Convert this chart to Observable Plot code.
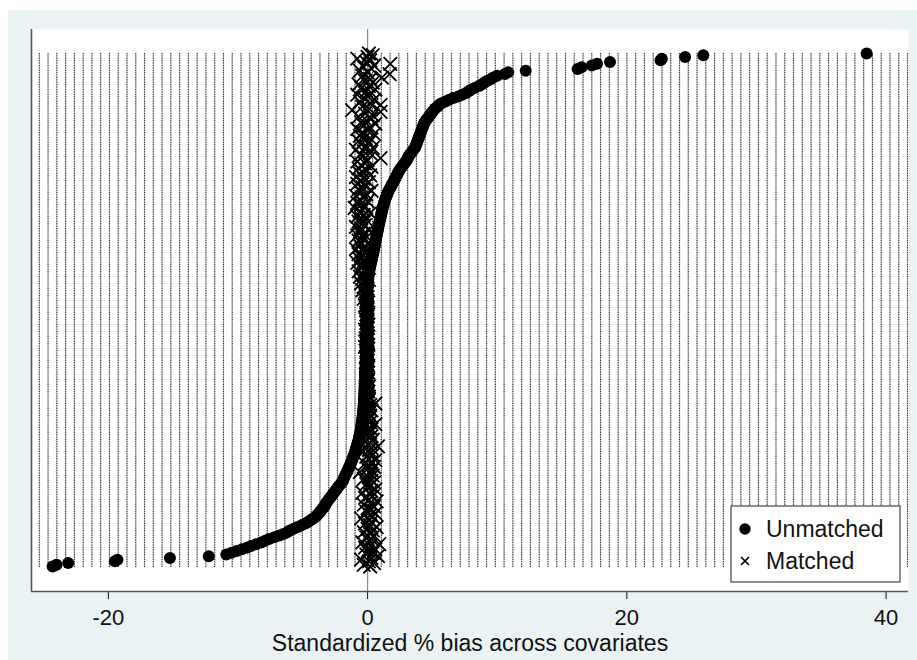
<!DOCTYPE html>
<html>
<head>
<meta charset="utf-8">
<script src="https://cdn.jsdelivr.net/npm/d3@7"></script>
<script src="https://cdn.jsdelivr.net/npm/@observablehq/plot@0.6"></script>
<style>
  body { margin: 0; background: #fff; }
  #wrap { position: relative; width: 917px; height: 660px; overflow: hidden; }
  #bg { position: absolute; left: 8px; top: 10px; width: 909px; height: 650px; background: #eaf2f3; }
  #chart { position: absolute; left: 0; top: 0; }
  #legend { position: absolute; left: 730px; top: 505px; }
</style>
</head>
<body>
<div id="wrap">
  <div id="bg"></div>
  <div id="chart"></div>
  <svg id="legend" width="171" height="78" font-family="'Liberation Sans', Arial, sans-serif">
    <rect x="1" y="1" width="169" height="76" fill="#fff" stroke="#444" stroke-width="1.2"></rect>
    <circle cx="15" cy="24" r="5.7" fill="#000"></circle>
    <path d="M11,52 L19,60 M19,52 L11,60" stroke="#000" stroke-width="1.7" fill="none"></path>
    <text x="36" y="32" font-size="23" fill="#111">Unmatched</text>
    <text x="36" y="64" font-size="23" fill="#111">Matched</text>
  </svg>
</div>
<script>
// Standardized % bias per covariate, sorted by unmatched bias (bottom -> top)
const unmatched = [
  -24.3, -24.0, -23.1, -19.5, -19.3, -15.25, -12.25, -10.9, -10.5, -10.1,
  -9.7, -9.3, -9.0, -8.6, -8.2, -7.9, -7.6, -7.2, -6.8, -6.5,
  -6.2, -6.0, -5.7, -5.4, -5.1, -4.8, -4.6, -4.4, -4.2, -4.0,
  -3.9, -3.75, -3.65, -3.55, -3.45, -3.35, -3.25, -3.2, -3.1, -3.0,
  -2.9, -2.8, -2.7, -2.6, -2.5, -2.4, -2.3, -2.2, -2.1, -2.0,
  -1.9, -1.85, -1.8, -1.73, -1.66, -1.6, -1.54, -1.48, -1.42, -1.36, -1.3, -1.25,
  -1.2, -1.15, -1.1, -1.05, -1.0, -0.96, -0.92, -0.88, -0.84, -0.8, -0.76, -0.72,
  -0.69, -0.66, -0.63, -0.6, -0.57, -0.54, -0.52, -0.5, -0.48, -0.46, -0.44, -0.42,
  -0.4, -0.39, -0.37, -0.36, -0.34, -0.33, -0.32, -0.31, -0.3, -0.29, -0.28, -0.27,
  -0.26, -0.26, -0.25, -0.25, -0.24, -0.24, -0.23, -0.23, -0.22, -0.22, -0.21, -0.21,
  -0.2, -0.2, -0.19, -0.19, -0.18, -0.17, -0.16, -0.15, -0.14, -0.13, -0.12,
  -0.12, -0.12, -0.12, -0.11, -0.11, -0.11, -0.11, -0.1, -0.1, -0.1,
  -0.1, -0.1, -0.1, -0.09, -0.09, -0.09, -0.09, -0.09, -0.08, -0.08,
  -0.08, -0.08, -0.08, -0.07, -0.07, -0.07, -0.07, -0.07, -0.06, -0.06,
  -0.06, -0.06, -0.06, -0.05, -0.05, -0.05, -0.05, -0.04, -0.04, -0.04, -0.03,
  -0.02, 0.0, 0.01, 0.02, 0.03, 0.04, 0.05, 0.06, 0.08, 0.1, 0.12, 0.14,
  0.17, 0.2, 0.23, 0.26, 0.29, 0.32, 0.35, 0.38, 0.41, 0.44, 0.47,
  0.5, 0.52, 0.55, 0.57, 0.6, 0.62, 0.65, 0.67, 0.7, 0.72, 0.75, 0.78,
  0.81, 0.83, 0.86, 0.89, 0.92, 0.95, 0.98, 1.01, 1.04, 1.07, 1.1,
  1.13, 1.16, 1.2, 1.24, 1.28, 1.32, 1.36, 1.41, 1.46, 1.51, 1.56, 1.62,
  1.7, 1.77, 1.84, 1.91, 1.98, 2.05, 2.12, 2.19, 2.26, 2.32, 2.38, 2.45,
  2.55, 2.65, 2.75, 2.85, 2.95, 3.05, 3.1, 3.15, 3.25, 3.35, 3.45, 3.55, 3.65,
  3.7, 3.75, 3.8, 3.85, 3.9, 3.95, 4.0, 4.05, 4.1, 4.15, 4.2, 4.25, 4.3, 4.35, 4.4,
  4.5, 4.6, 4.7, 4.8, 4.9, 5.0, 5.1, 5.2, 5.4, 5.5, 5.7, 6.0,
  6.3, 6.6, 7.0, 7.3, 7.6, 7.8, 8.0, 8.3, 8.6, 8.8, 9.0, 9.2, 9.5, 9.7, 10.0, 10.6,
  10.85, 12.2, 16.2, 16.5, 17.3, 17.7, 18.7, 22.6, 22.7, 24.5, 25.9, 38.5
];
const matched = [
  0.2, -0.3, 0.5, 0.1, -0.5, 0.3, 0.8, -0.1, 0.4, 0.0,
  0.6, -0.2, 0.2, 0.9, -0.4, 0.1, 0.3, -0.1, 0.5, 0.2,
  -0.3, 0.4, 0.0, 0.7, 0.2, -0.2, 0.3, 0.1, -0.5, 0.4,
  0.2, 0.6, -0.1, 0.3, 0.0, 0.5, -0.3, 0.2, 0.7, 0.1,
  -0.2, 0.4, 0.2, -0.4, 0.3, 0.6, 0.0, 0.2, -0.1, 0.5,
  0.3, -0.3, 0.1, 0.4, 0.2, -0.6, 0.3, 0.0, 0.5, 0.1,
  -0.2, 0.3, 0.6, 0.1, -0.1, 0.4, 0.2, -0.3, 0.1, 0.3,
  0.8, 0.0, 0.2, -0.2, 0.4, 0.1, 0.3, -0.1, 0.2, 0.0,
  0.3, 0.1, -0.1, 0.6, 0.2, 0.0, 0.1, -0.2, 0.2, 0.1,
  0.0, 0.3, 0.1, -0.1, 0.2, 0.6, 0.0, 0.1, -0.1, 0.1,
  0.0, -0.1, 0.05, -0.15, 0.0, 0.1, -0.05, -0.1, 0.0, 0.05,
  -0.1, 0.0, -0.15, 0.05, -0.05, 0.0, -0.1, 0.05, -0.05, -0.1,
  0.0, -0.05, -0.15, 0.05, 0.0, -0.1, -0.05, 0.0, -0.2, 0.05,
  -0.05, -0.1, 0.0, -0.15, 0.05, -0.05, 0.0, -0.1, -0.2, 0.0,
  -0.05, 0.05, -0.1, 0.0, -0.15, -0.05, 0.0, -0.1, 0.05, -0.05,
  -0.1, 0.0, -0.2, -0.05, 0.05, -0.1, -0.3, 0.0, -0.15, -0.05,
  -0.2, -0.4, 0.0, -0.3, -0.1, -0.5, -0.2, 0.1, -0.4, -0.6,
  -0.3, -0.1, -0.7, -0.2, -0.5, 0.0, -0.4, -0.8, -0.3, -0.6,
  -0.1, -0.5, -0.7, -0.2, -0.4, -0.9, -0.3, -0.6, 0.0, -0.5,
  -0.7, -0.2, -0.4, -0.8, -0.3, -0.6, 0.1, -0.5, -0.9, -0.2,
  -0.4, -0.7, -0.1, -0.5, -0.8, -0.3, 0.2, -0.6, -0.4, -1.0,
  -0.2, -0.5, -0.8, 0.0, -0.6, -0.3, -0.9, -0.1, -0.5, 0.3,
  -0.7, -0.4, -0.2, -0.8, 0.1, -0.5, -0.3, -0.9, 0.2, -0.6,
  -0.4, -0.1, -0.7, 0.3, -0.5, -0.2, -0.8, 0.0, 1.0, -0.4,
  -0.6, 0.2, -0.3, -0.9, 0.4, -0.1, -0.5, 0.1, -0.7, 0.3,
  -0.2, -0.6, 0.5, -0.4, 0.0, -0.8, 0.2, -0.3, 0.6, -0.5,
  -0.1, 0.3, -0.7, 0.4, -0.2, 1.0, -1.2, 0.1, -0.4, 1.0,
  0.2, -0.6, 0.5, -0.3, 0.0, -0.8, 0.3, -0.1, 0.6, -0.5,
  0.1, -0.7, 0.4, -0.2, 0.2, 1.1, -0.4, 1.7, 0.0, -0.6,
  0.3, -0.3, 0.5, 1.75, -0.1, 0.2, -0.8, 0.0, 0.4, 0.1
];
const xTicks = [-20, 0, 20, 40];
const xTitle = "Standardized % bias across covariates";

const N = Math.min(unmatched.length, matched.length);
const rows = d3.range(N).map(i => ({rank: i + 1, unmatched: unmatched[i], matched: matched[i]}));

// layout
const W = 917, H = 660;
const mL = 31, mR = 9, mT = 29, mB = 69;
const xDomain = [-25.93, 41.73];
const step = 513 / (N - 1);             // px between covariate rows
const yDomain = [1 - 25 / step, N + 24 / step];

const chart = Plot.plot({
  width: W,
  height: H,
  marginLeft: mL,
  marginRight: mR,
  marginTop: mT,
  marginBottom: mB,
  style: {
    background: "transparent",
    fontFamily: "'Liberation Sans', Arial, sans-serif",
    fontSize: "22px",
    color: "#111",
    overflow: "visible"
  },
  x: {
    domain: xDomain,
    ticks: xTicks,
    tickFormat: d => String(d),
    tickSize: 8,
    tickPadding: 10,
    label: null
  },
  y: {domain: yDomain, axis: null},
  marks: [
    Plot.frame({fill: "white", stroke: null}),
    // dotted category lines (one per covariate)
    Plot.ruleY(rows, {y: "rank", stroke: "#222", strokeWidth: 1, strokeDasharray: "1.2 7.57", strokeDashoffset: 1.07}),
    // reference line at zero
    Plot.ruleX([0], {stroke: "#8a8a8a", strokeWidth: 1.2}),
    // axis lines
    Plot.ruleX([xDomain[0]], {stroke: "#555", strokeWidth: 1.6}),
    Plot.ruleY([yDomain[0]], {stroke: "#555", strokeWidth: 1.4}),
    // unmatched
    Plot.dot(rows, {x: "unmatched", y: "rank", r: 6, fill: "#000", stroke: null}),
    // matched
    Plot.dot(rows, {x: "matched", y: "rank", symbol: "times", r: 6.2, stroke: "#000", strokeWidth: 1.8}),
    Plot.text([xTitle], {frameAnchor: "bottom", dy: 59, fontSize: 23, fill: "#111"})
  ]
});
document.getElementById("chart").appendChild(chart);
</script>
</body>
</html>
